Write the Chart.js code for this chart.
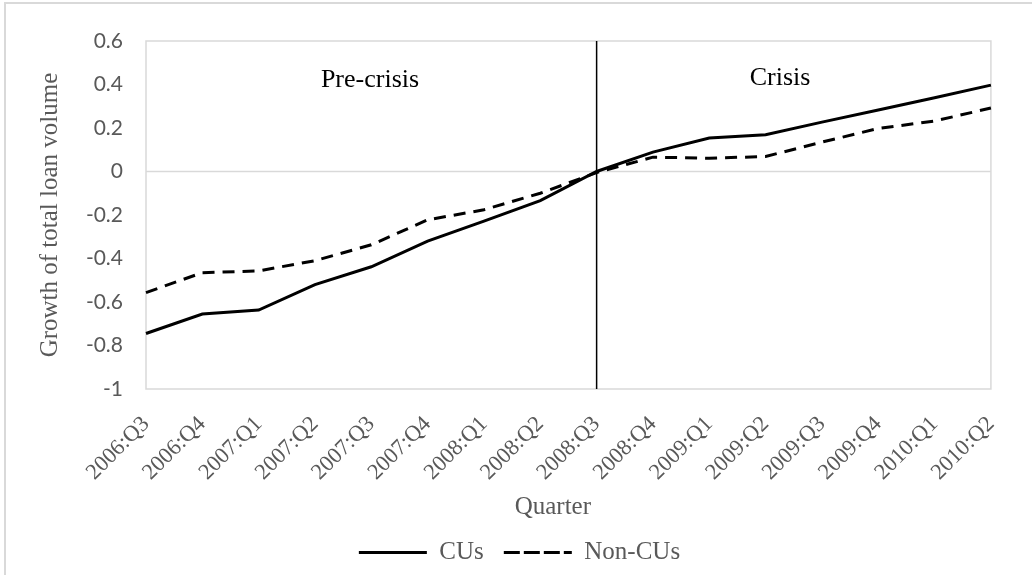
<!DOCTYPE html>
<html>
<head>
<meta charset="utf-8">
<script src="https://cdn.jsdelivr.net/npm/chart.js@4/dist/chart.umd.min.js"></script>
<style>
  html, body { margin: 0; padding: 0; background: #fff; }
  #wrap { width: 1032px; height: 575px; position: relative; }
</style>
</head>
<body>
<div id="wrap"><canvas id="loanChart"></canvas></div>
<script>
const quarters = [
  '2006:Q3', '2006:Q4', '2007:Q1', '2007:Q2', '2007:Q3', '2007:Q4',
  '2008:Q1', '2008:Q2', '2008:Q3', '2008:Q4', '2009:Q1', '2009:Q2',
  '2009:Q3', '2009:Q4', '2010:Q1', '2010:Q2'
];
const cuGrowth = [-0.745, -0.655, -0.637, -0.52, -0.438, -0.32, -0.228, -0.134,
  0, 0.089, 0.154, 0.169, 0.227, 0.283, 0.339, 0.397];
const nonCuGrowth = [-0.557, -0.465, -0.457, -0.41, -0.337, -0.222, -0.176, -0.10,
  -0.005, 0.066, 0.061, 0.069, 0.135, 0.198, 0.232, 0.292];
const crisisStart = '2008:Q3';
const periodLabels = ['Pre-crisis', 'Crisis'];

const gray = '#595959';
const lineGray = '#d9d9d9';

// plot frame, zero axis, crisis divider and period labels
const decorPlugin = {
  id: 'decor',
  afterLayout(chart) {
    // legend sits a little right of centre in the original
    chart.legend.left += 24;
    chart.legend.right += 24;
  },
  beforeDatasetsDraw(chart) {
    const { ctx, chartArea: a, scales } = chart;
    ctx.save();
    ctx.strokeStyle = lineGray;
    ctx.lineWidth = 2;
    ctx.strokeRect(5, 3, 1100, 700);
    ctx.lineWidth = 1.5;
    ctx.strokeRect(a.left, a.top, a.right - a.left, a.bottom - a.top);
    const y0 = scales.y.getPixelForValue(0);
    ctx.beginPath();
    ctx.moveTo(a.left, y0);
    ctx.lineTo(a.right, y0);
    ctx.stroke();

    const xc = scales.x.getPixelForValue(quarters.indexOf(crisisStart));
    ctx.strokeStyle = '#000';
    ctx.lineWidth = 1.5;
    ctx.beginPath();
    ctx.moveTo(xc, a.top);
    ctx.lineTo(xc, a.bottom);
    ctx.stroke();

    ctx.fillStyle = '#000';
    ctx.font = '26px "Liberation Serif"';
    ctx.textAlign = 'center';
    ctx.textBaseline = 'middle';
    ctx.fillText(periodLabels[0], 370, 80);
    ctx.fillText(periodLabels[1], 780, 78);
    ctx.restore();
  }
};

new Chart(document.getElementById('loanChart'), {
  type: 'line',
  data: {
    labels: quarters,
    datasets: [{
      label: 'CUs',
      data: cuGrowth,
      borderColor: '#000',
      backgroundColor: '#000',
      borderWidth: 3,
      pointRadius: 0,
      tension: 0
    }, {
      label: 'Non-CUs',
      data: nonCuGrowth,
      borderColor: '#000',
      backgroundColor: '#000',
      borderWidth: 3,
      borderDash: [12, 8],
      pointRadius: 0,
      tension: 0
    }]
  },
  options: {
    responsive: true,
    maintainAspectRatio: false,
    animation: false,
    layout: { padding: { top: 41, right: 41, left: 0, bottom: 0 } },
    plugins: {
      tooltip: { enabled: false },
      legend: {
        position: 'bottom',
        labels: {
          boxWidth: 68,
          boxHeight: 0,
          padding: 20,
          color: gray,
          font: { family: '"Liberation Serif"', size: 25 }
        }
      }
    },
    scales: {
      x: {
        offset: false,
        grid: { display: false, drawTicks: false },
        border: { display: false },
        ticks: {
          color: gray,
          font: { family: '"Liberation Serif"', size: 22.5 },
          maxRotation: 45,
          minRotation: 45,
          autoSkip: false,
          padding: 22
        },
        title: {
          display: true,
          text: 'Quarter     ',
          color: gray,
          font: { family: '"Liberation Serif"', size: 25 },
          padding: { top: 0, bottom: -2 }
        },
        afterFit(scale) { scale.height = 131; }
      },
      y: {
        min: -1,
        max: 0.6,
        grid: { display: false, drawTicks: false },
        border: { display: false },
        ticks: {
          stepSize: 0.2,
          color: gray,
          font: { family: 'Lato', size: 21 },
          padding: 23,
          callback: v => String(Math.round(v * 10) / 10)
        },
        title: {
          display: true,
          text: 'Growth of total loan volume',
          color: gray,
          font: { family: '"Liberation Serif"', size: 25 },
          padding: { top: 35, bottom: 0 }
        },
        afterFit(scale) { scale.width = 146; }
      }
    }
  },
  plugins: [decorPlugin]
});
</script>
</body>
</html>
